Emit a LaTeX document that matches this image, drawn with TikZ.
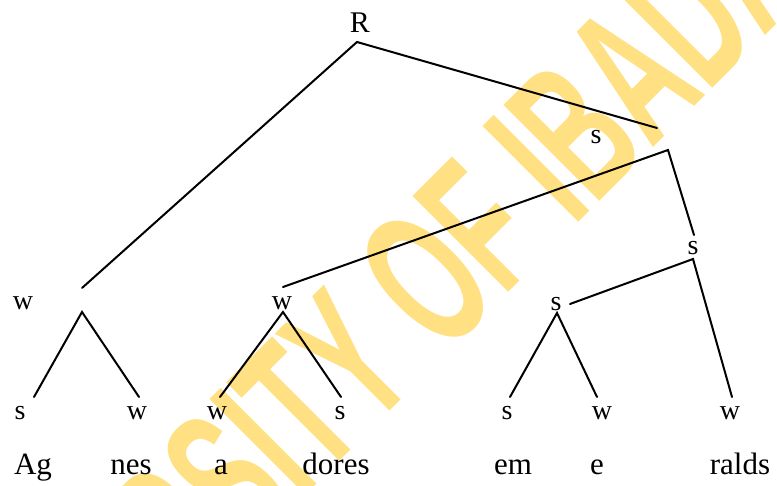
\documentclass[tikz,border=0pt]{standalone}
\usepackage{fontspec}
\setmainfont{Liberation Serif}
\newfontfamily\treefont{Liberation Serif}
\newfontfamily\wmfont{Liberation Sans}
\usepackage{graphicx}
\definecolor{wmyellow}{RGB}{255,224,130}

\begin{document}
\begin{tikzpicture}[x=1pt, y=-1pt,
  lbl/.style={font=\treefont\fontsize{28}{28}\selectfont, anchor=base, inner sep=0pt},
  syl/.style={font=\treefont\fontsize{31}{31}\selectfont, anchor=base, inner sep=0pt},
  branch/.style={line width=2pt, line cap=round},
  wm/.style={font=\wmfont\bfseries\fontsize{197}{197}\selectfont, text=wmyellow, inner sep=0pt},
]
\useasboundingbox (0,0) rectangle (777,486);

% Watermark
\node[wm, rotate=45, anchor=base] (wmark) at (415,386) {\scalebox{0.56}[1]{UNIVERSITY OF IBADAN}};

% Tree labels
\node[lbl, font=\treefont\fontsize{30}{30}\selectfont] (root) at (360,33) {R};
\node[lbl] (sTop) at (596,144) {s};
\node[lbl] (sRight) at (693,255) {s};
\node[lbl] (wLeft) at (23,310) {w};
\node[lbl] (wMid) at (282,310) {w};
\node[lbl] (sMid) at (556,311) {s};

% Leaves
\node[lbl] (leaf1) at (20,420) {s};
\node[lbl] (leaf2) at (137,420) {w};
\node[lbl] (leaf3) at (217,420) {w};
\node[lbl] (leaf4) at (340,420) {s};
\node[lbl] (leaf5) at (507,420) {s};
\node[lbl] (leaf6) at (602,420) {w};
\node[lbl] (leaf7) at (730,420) {w};

% Syllables
\node[syl] (syl1) at (33,475) {Ag};
\node[syl] (syl2) at (131,475) {nes};
\node[syl] (syl3) at (221,475) {a};
\node[syl] (syl4) at (336,475) {dores};
\node[syl] (syl5) at (513,475) {em};
\node[syl] (syl6) at (597,475) {e};
\node[syl] (syl7) at (740,475) {ralds};

% Branch ends
\coordinate (rootB) at (357,42);
\coordinate (wLeftT) at (82,288);
\coordinate (wLeftB) at (82,312);
\coordinate (sTopT) at (657,128);
\coordinate (sTopB) at (668,150);
\coordinate (wMidT) at (283,287);
\coordinate (wMidB) at (283,312);
\coordinate (sRightT) at (694,235);
\coordinate (sRightB) at (693,259);
\coordinate (sMidT) at (570,304);
\coordinate (sMidB) at (557,313);
\coordinate (leaf1T) at (34,397);
\coordinate (leaf2T) at (139,397);
\coordinate (leaf3T) at (220,397);
\coordinate (leaf4T) at (341,397);
\coordinate (leaf5T) at (510,397);
\coordinate (leaf6T) at (597,397);
\coordinate (leaf7T) at (732,397);

% Branches
\draw[branch] (wLeftT) -- (rootB) -- (sTopT);
\draw[branch] (wMidT) -- (sTopB) -- (sRightT);
\draw[branch] (sMidT) -- (sRightB) -- (leaf7T);
\draw[branch] (leaf1T) -- (wLeftB) -- (leaf2T);
\draw[branch] (leaf3T) -- (wMidB) -- (leaf4T);
\draw[branch] (leaf5T) -- (sMidB) -- (leaf6T);
\end{tikzpicture}
\end{document}
